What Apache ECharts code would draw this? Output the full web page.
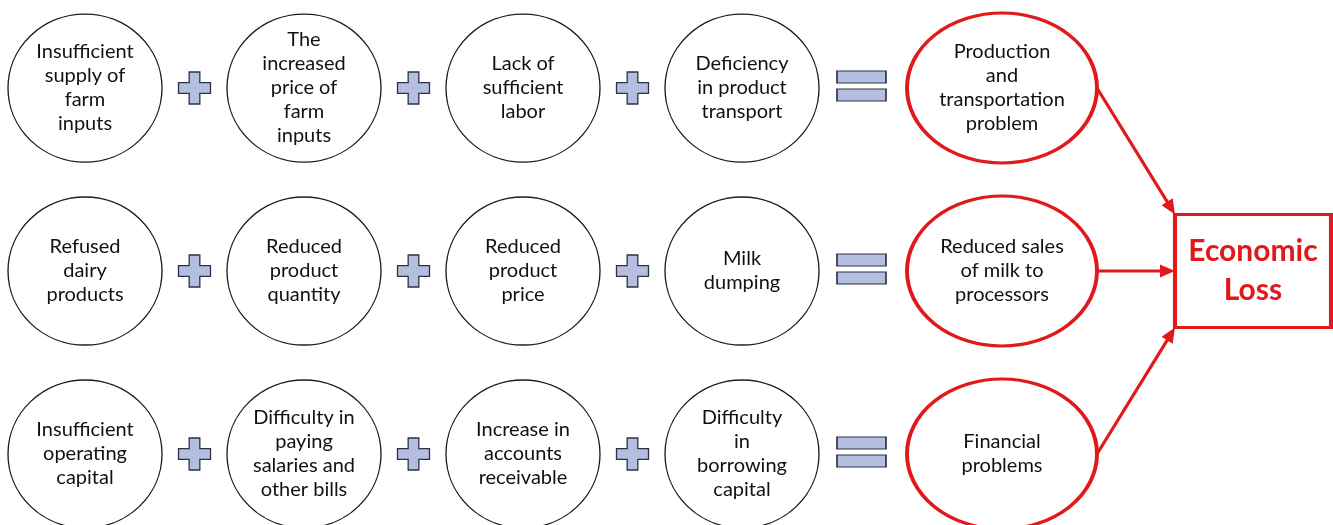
<!DOCTYPE html>
<html>
<head>
<meta charset="utf-8">
<script src="https://cdn.jsdelivr.net/npm/echarts@6/dist/echarts.min.js"></script>
<style>
  html, body { margin: 0; padding: 0; background: #fff; }
  #main { width: 1333px; height: 525px; }
</style>
</head>
<body>
<div id="main"></div>
<script>
// slots of the left part: four causes joined by plus signs, then the equals sign
var slots = ['cause1', 'plus1', 'cause2', 'plus2', 'cause3', 'plus3', 'cause4', 'equals'];
var plusSlots = [1, 3, 5];
var equalsSlot = 7;
var rightSlots = ['result', 'loss'];
var rows = [0, 1, 2];

var causes = [
    ['Insufficient\nsupply of\nfarm\ninputs', 'The\nincreased\nprice of\nfarm\ninputs', 'Lack of\nsufficient\nlabor', 'Deficiency\nin product\ntransport'],
    ['Refused\ndairy\nproducts', 'Reduced\nproduct\nquantity', 'Reduced\nproduct\nprice', 'Milk\ndumping'],
    ['Insufficient\noperating\ncapital', 'Difficulty in\npaying\nsalaries and\nother bills', 'Increase in\naccounts\nreceivable', 'Difficulty\nin\nborrowing\ncapital']
];
var results = ['Production\nand\ntransportation\nproblem', 'Reduced sales\nof milk to\nprocessors', 'Financial\nproblems'];
var lossLabel = 'Economic\nLoss';
var lossRow = 1;

var red = '#e0191b';
var circleSize = [154, 148];
var resultSize = [190, 150];
var lossSize = [156, 113];
var textFont = 'Lato';

var causeData = [];
rows.forEach(function (r) {
    causes[r].forEach(function (t, i) {
        causeData.push({ name: t, value: [i * 2, r] });
    });
});
var plusData = [];
rows.forEach(function (r) {
    plusSlots.forEach(function (s) { plusData.push([s, r]); });
});
var equalsData = rows.map(function (r) { return [equalsSlot, r]; });
var resultData = results.map(function (t, r) { return { name: t, value: [0, r] }; });
var lossData = [{ name: lossLabel, value: [1, lossRow] }];
var arrowData = rows.map(function (r) { return [0, r, 1, lossRow]; });

var yAxisBase = { type: 'value', min: -0.481, max: 2.388, inverse: true, show: false };

var chartDom = document.getElementById('main');
var chart = echarts.init(chartDom);
var option = {
    animation: false,
    grid: [
        { left: 30.25, width: 876, top: 0, height: 525 },
        { left: 1002, width: 251, top: 0, height: 525 }
    ],
    xAxis: [
        { type: 'category', data: slots, gridIndex: 0, show: false },
        { type: 'category', data: rightSlots, gridIndex: 1, boundaryGap: false, show: false }
    ],
    yAxis: [
        Object.assign({ gridIndex: 0 }, yAxisBase),
        Object.assign({ gridIndex: 1 }, yAxisBase)
    ],
    series: [
        {
            name: 'causes',
            type: 'scatter',
            xAxisIndex: 0, yAxisIndex: 0,
            clip: false,
            silent: true,
            symbol: 'circle',
            symbolSize: circleSize,
            itemStyle: { color: '#fff', borderColor: '#1a1a1a', borderWidth: 1.3, opacity: 1 },
            label: {
                show: true,
                position: 'inside',
                formatter: '{b}',
                color: '#111',
                fontFamily: textFont,
                fontSize: 20,
                lineHeight: 24
            },
            data: causeData
        },
        {
            name: 'plus',
            type: 'scatter',
            xAxisIndex: 0, yAxisIndex: 0,
            clip: false,
            silent: true,
            symbol: 'path://M1,0H2V1H3V2H2V3H1V2H0V1H1Z',
            symbolSize: [32, 32],
            itemStyle: { color: '#b4bedf', borderColor: '#2c3146', borderWidth: 1.3, opacity: 1 },
            data: plusData
        },
        {
            name: 'equals',
            type: 'scatter',
            xAxisIndex: 0, yAxisIndex: 0,
            clip: false,
            silent: true,
            symbol: 'path://M0,0H49V12H0Z M0,18H49V30H0Z',
            symbolSize: [49, 30],
            symbolOffset: [10, -2],
            itemStyle: { color: '#b4bedf', borderColor: '#2c3146', borderWidth: 1.3, opacity: 1 },
            data: equalsData
        },
        {
            name: 'arrows',
            type: 'custom',
            xAxisIndex: 1, yAxisIndex: 1,
            silent: true,
            clip: false,
            z: 3,
            renderItem: function (params, api) {
                var from = api.coord([api.value(0), api.value(1)]);
                var to = api.coord([api.value(2), api.value(3)]);
                var rel = api.value(1) - api.value(3);
                var x1 = from[0] + resultSize[0] / 2, y1 = from[1];
                var x2 = to[0] - lossSize[0] / 2, y2 = to[1] + rel * lossSize[1] / 2;
                var dx = x2 - x1, dy = y2 - y1;
                var len = Math.sqrt(dx * dx + dy * dy);
                var ux = dx / len, uy = dy / len;
                var head = 15, half = 6.5;
                var bx = x2 - ux * head, by = y2 - uy * head;
                return {
                    type: 'group',
                    children: [
                        {
                            type: 'line',
                            shape: { x1: x1, y1: y1, x2: bx + ux * 2, y2: by + uy * 2 },
                            style: { stroke: red, lineWidth: 3.2 }
                        },
                        {
                            type: 'polygon',
                            shape: { points: [[x2, y2], [bx - uy * half, by + ux * half], [bx + uy * half, by - ux * half]] },
                            style: { fill: red }
                        }
                    ]
                };
            },
            data: arrowData
        },
        {
            name: 'results',
            type: 'scatter',
            xAxisIndex: 1, yAxisIndex: 1,
            clip: false,
            silent: true,
            z: 4,
            symbol: 'circle',
            symbolSize: resultSize,
            itemStyle: { color: '#fff', borderColor: red, borderWidth: 3.5, opacity: 1 },
            label: {
                show: true,
                position: 'inside',
                formatter: '{b}',
                color: '#111',
                fontFamily: textFont,
                fontSize: 20,
                lineHeight: 24
            },
            data: resultData
        },
        {
            name: 'loss',
            type: 'scatter',
            xAxisIndex: 1, yAxisIndex: 1,
            clip: false,
            silent: true,
            z: 4,
            symbol: 'rect',
            symbolSize: lossSize,
            itemStyle: { color: '#fff', borderColor: red, borderWidth: 3.5, opacity: 1 },
            label: {
                show: true,
                position: 'inside',
                formatter: '{b}',
                color: red,
                fontFamily: textFont,
                fontWeight: 'bold',
                fontSize: 30,
                lineHeight: 39
            },
            data: lossData
        }
    ]
};
chart.setOption(option);

window.addEventListener('resize', function () {
    chart.resize();
});
</script>
</body>
</html>
